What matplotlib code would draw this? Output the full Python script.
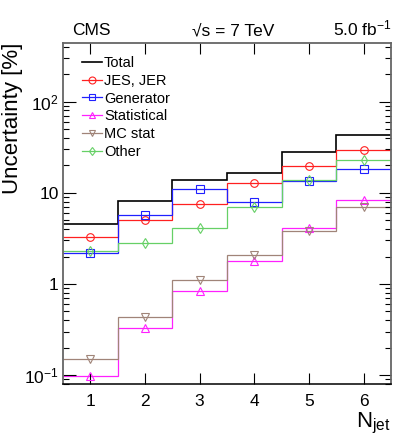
import numpy as np
import matplotlib
matplotlib.use("Agg")
import matplotlib.pyplot as plt
from matplotlib.lines import Line2D
from matplotlib.ticker import FixedLocator, LogLocator, NullFormatter

plt.rcParams['font.family'] = ['Liberation Sans', 'DejaVu Sans']
plt.rcParams['mathtext.fontset'] = 'custom'
plt.rcParams['mathtext.rm'] = 'Liberation Sans'
plt.rcParams['mathtext.it'] = 'Liberation Sans:italic'

# jet multiplicity bins
njet = [1, 2, 3, 4, 5, 6]

# uncertainties in percent
total = [4.56, 8.2, 13.9, 16.7, 27.7, 43.4]
jes_jer = [3.26, 5.0, 7.6, 12.8, 19.5, 29.7]
generator = [2.17, 5.73, 11.0, 7.96, 13.6, 18.2]
statistical = [0.099, 0.326, 0.845, 1.79, 4.16, 8.38]
mc_stat = [0.149, 0.437, 1.11, 2.07, 3.82, 7.07]
other = [2.32, 2.84, 4.09, 6.96, 13.9, 22.9]

labels = ["Total", "JES, JER", "Generator", "Statistical", "MC stat", "Other"]
series = [total, jes_jer, generator, statistical, mc_stat, other]
colors = ["black", "#ff2020", "#2020ff", "#ff20ff", "#a08478", "#66d066"]
markers = [None, "o", "s", "^", "v", "d"]

fig = plt.figure(figsize=(3.99, 4.42), dpi=100)
ax = fig.add_axes([63 / 399, 58 / 442, 328 / 399, 341 / 442])

x = np.array(njet)
edges = np.append(x - 0.5, x[-1] + 0.5)

handles = []
for vals, lab, col, mk in zip(series, labels, colors, markers):
    lw = 1.2 if mk is None else 0.9
    ax.stairs(vals, edges, baseline=None, color=col, lw=lw)
    if mk is not None:
        ax.plot(x, vals, ls="none", marker=mk, mfc="none", mec=col,
                ms=5.5 if mk != "d" else 5, mew=0.8)
    handles.append(Line2D([], [], color=col, lw=lw, marker=mk, mfc="none",
                          mec=col, ms=5 if mk != "d" else 4.5, mew=0.8))

ax.set_yscale("log")
ax.set_xlim(0.5, 6.5)
ax.set_ylim(0.08, 440)

ax.xaxis.set_major_locator(FixedLocator(njet))
ax.set_xticklabels([str(n) for n in njet], fontsize=12.5)
ax.yaxis.set_major_locator(FixedLocator([0.1, 1, 10, 100]))
ax.set_yticklabels([r"$\mathregular{10^{-1}}$", "1", "10",
                    r"$\mathregular{10^{2}}$"], fontsize=12.5)
ax.yaxis.set_minor_locator(LogLocator(base=10, subs=np.arange(2, 10)))
ax.yaxis.set_minor_formatter(NullFormatter())

ax.tick_params(axis="both", which="both", direction="in", top=True, right=True)
ax.tick_params(axis="x", which="major", length=8, width=0.8, pad=7)
ax.tick_params(axis="y", which="major", length=9, width=0.8, pad=3)
ax.tick_params(axis="y", which="minor", length=4.5, width=0.8)

for side in ["left", "top", "right"]:
    ax.spines[side].set_color("#666666")
    ax.spines[side].set_linewidth(1.3)
ax.spines["bottom"].set_linewidth(1.1)

# axis titles placed ROOT-style: at the top / right ends of the axes
fig.text(13 / 399, 1 - 43 / 442, "Uncertainty [%]", fontsize=16,
         rotation=90, ha="center", va="top")
fig.text(391 / 399, 1 - 427 / 442, r"$\mathregular{N_{jet}}$", fontsize=16,
         ha="right", va="baseline")

fig.text(72 / 399, 1 - 35 / 442, "CMS", fontsize=12.5, ha="left", va="baseline")
fig.text(233 / 399, 1 - 35 / 442, "\u221as = 7 TeV", fontsize=12.5,
         ha="center", va="baseline")
fig.text(392 / 399, 1 - 35 / 442, r"5.0 fb$\mathregular{^{-1}}$", fontsize=12.5,
         ha="right", va="baseline")

ax.legend(handles, labels, loc="upper left",
          bbox_to_anchor=(82 / 399, 1 - 56 / 442),
          bbox_transform=fig.transFigure, frameon=False, fontsize=10.5,
          borderpad=0, borderaxespad=0, labelspacing=0.26,
          handlelength=1.35, handletextpad=0.15)

fig.savefig("out.png", dpi=100)
